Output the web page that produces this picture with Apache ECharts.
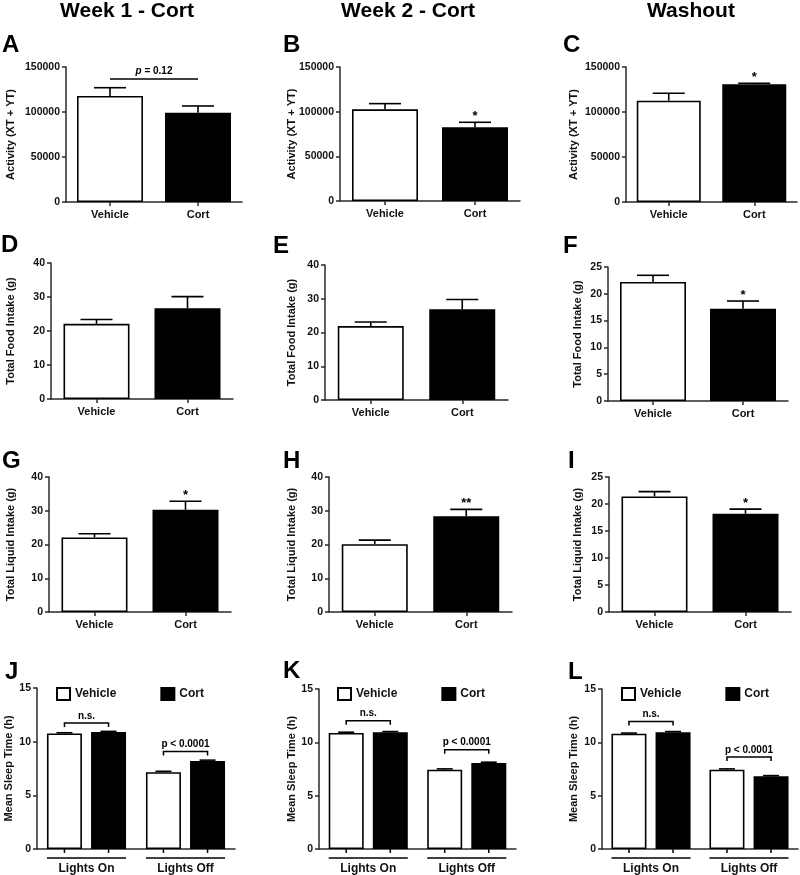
<!DOCTYPE html>
<html><head><meta charset="utf-8">
<script src="https://cdn.jsdelivr.net/npm/echarts@6/dist/echarts.min.js"></script>
<style>html,body{margin:0;padding:0;background:#fff}#c{width:800px;height:875px}</style>
</head><body><div id="c"></div>
<script>
const FONT = '"Liberation Sans", Arial, Helvetica, sans-serif';

// ---------- text ----------
const columnTitles = ['Week 1 - Cort', 'Week 2 - Cort', 'Washout'];
const panelLetters = ['A','B','C','D','E','F','G','H','I','J','K','L'];
const groups = ['Vehicle', 'Cort'];
const sleepPhases = ['Lights On', 'Lights Off'];
const yNames = ['Activity (XT + YT)', 'Total Food Intake (g)', 'Total Liquid Intake (g)', 'Mean Sleep Time (h)'];

// ---------- tick labels ----------
const activityTicks = [0, 50000, 100000, 150000];
const ticks40 = [0, 10, 20, 30, 40];
const ticks25 = [0, 5, 10, 15, 20, 25];
const sleepTicks = [0, 5, 10, 15];

// ---------- data (mean, SEM) : [Vehicle, Cort] ----------
const activityW1Mean = [117800, 99200];  const activityW1Sem = [9200, 7500];
const activityW2Mean = [102600, 82500];  const activityW2Sem = [6400, 5600];
const activityWoMean = [112600, 130800]; const activityWoSem = [8200, 1100];

const foodW1Mean = [22.1, 26.7];  const foodW1Sem = [1.3, 3.4];
const foodW2Mean = [21.9, 26.9];  const foodW2Sem = [1.2, 2.9];
const foodWoMean = [22.2, 17.2];  const foodWoSem = [1.25, 1.45];

const liquidW1Mean = [22.1, 30.3]; const liquidW1Sem = [1.1, 2.5];
const liquidW2Mean = [20.1, 28.4]; const liquidW2Sem = [1.2, 2.0];
const liquidWoMean = [21.4, 18.2]; const liquidWoSem = [0.9, 0.85];

// sleep: [Lights On, Lights Off]
const sleepW1Vehicle = [10.76, 7.16]; const sleepW1VehicleSem = [0.07, 0.08];
const sleepW1Cort    = [10.89, 8.21]; const sleepW1CortSem    = [0.07, 0.07];
const sleepW2Vehicle = [10.88, 7.43]; const sleepW2VehicleSem = [0.07, 0.08];
const sleepW2Cort    = [10.94, 8.06]; const sleepW2CortSem    = [0.07, 0.08];
const sleepWoVehicle = [10.81, 7.43]; const sleepWoVehicleSem = [0.06, 0.08];
const sleepWoCort    = [10.95, 6.81]; const sleepWoCortSem    = [0.06, 0.07];

// ---------- significance annotations ----------
const activityStars = [['', ''], ['', '*'], ['', '*']];
const foodStars     = [['', ''], ['', ''], ['', '*']];
const liquidStars   = [['', '*'], ['', '**'], ['', '*']];
const activityW1Note = 'p = 0.12';
const activityW1NoteLevel = 136700;
const sleepNotes = ['n.s.', 'p < 0.0001'];
const sleepW1NoteLevels = [11.73, 9.08];
const sleepW2NoteLevels = [12.03, 9.31];
const sleepWoNoteLevels = [11.96, 8.63];

// ---------- layout (pixels) ----------
const gridBoxes = [
  [66, 67, 176, 135], [340, 67, 180, 134], [626, 67, 171, 135],
  [51, 263, 182, 136], [325, 265, 183, 135], [608, 267, 180, 134],
  [49, 477, 182, 135], [329, 477, 183, 135], [609, 477, 182, 135],
  [37, 688, 198, 161], [319, 689, 197, 160], [602, 689, 196, 160]
];
const nameGaps = [50, 43, 47, 35, 28, 25, 33, 32, 26, 23, 22, 23];
const letterPos = [[2,45],[283,45],[563,45],[1,245],[273,246],[563,246],[2,461],[283,461],[568,461],[5,672],[283,671],[568,672]];
const titleX = [127, 408, 691];
const legendLeft = [56, 337, 621];
const BAR_W = 66, CAP_HALF = 16;
const SBAR_W = 35, SGAP = 0.26, SCAP_HALF = 8;
const SOFF = (SBAR_W + SBAR_W * SGAP) / 2;
const SGROUP_HALF = SBAR_W + SBAR_W * SGAP / 2;
const AX = '#2a2a2a';

const barPanels = [
  [activityW1Mean, activityW1Sem, activityTicks, 0, activityStars[0]],
  [activityW2Mean, activityW2Sem, activityTicks, 0, activityStars[1]],
  [activityWoMean, activityWoSem, activityTicks, 0, activityStars[2]],
  [foodW1Mean, foodW1Sem, ticks40, 1, foodStars[0]],
  [foodW2Mean, foodW2Sem, ticks40, 1, foodStars[1]],
  [foodWoMean, foodWoSem, ticks25, 1, foodStars[2]],
  [liquidW1Mean, liquidW1Sem, ticks40, 2, liquidStars[0]],
  [liquidW2Mean, liquidW2Sem, ticks40, 2, liquidStars[1]],
  [liquidWoMean, liquidWoSem, ticks25, 2, liquidStars[2]]
];
const sleepPanels = [
  [sleepW1Vehicle, sleepW1VehicleSem, sleepW1Cort, sleepW1CortSem, sleepW1NoteLevels],
  [sleepW2Vehicle, sleepW2VehicleSem, sleepW2Cort, sleepW2CortSem, sleepW2NoteLevels],
  [sleepWoVehicle, sleepWoVehicleSem, sleepWoCort, sleepWoCortSem, sleepWoNoteLevels]
];

function txt(x, y, text, font, align, valign, extra) {
  return { type: 'text', x: x, y: y, style: Object.assign({
    text: text, font: font, fill: '#000',
    align: align, verticalAlign: valign, textAlign: align, textVerticalAlign: valign
  }, extra || {}) };
}
function ln(x1, y1, x2, y2, w) {
  return { type: 'line', shape: { x1: x1, y1: y1, x2: x2, y2: y2 }, style: { stroke: '#000', lineWidth: w || 1.6 } };
}

const grids = [], xAxes = [], yAxes = [], series = [];

function addAxes(i, ticks, cats, nameIdx, sleep) {
  const b = gridBoxes[i];
  grids.push({ left: b[0], top: b[1], width: b[2], height: b[3], outerBoundsMode: 'none', containLabel: false });
  xAxes.push({
    type: 'category', gridIndex: i, data: cats,
    axisLine: { lineStyle: { color: AX, width: 1.5 } },
    axisTick: { show: !sleep, alignWithLabel: true, length: 4, lineStyle: { color: AX, width: 1.5 } },
    axisLabel: { fontFamily: FONT, fontWeight: 'bold', fontSize: sleep ? 12 : 11, color: '#111', margin: sleep ? 14 : 7 }
  });
  yAxes.push({
    type: 'value', gridIndex: i, min: ticks[0], max: ticks[ticks.length - 1], interval: ticks[1] - ticks[0],
    name: yNames[nameIdx], nameLocation: 'middle', nameGap: nameGaps[i], nameMoveOverlap: false,
    nameTextStyle: { fontFamily: FONT, fontWeight: 'bold', fontSize: 11, color: '#111' },
    axisLine: { show: true, lineStyle: { color: AX, width: 1.5 } },
    axisTick: { show: true, length: 4, lineStyle: { color: AX, width: 1.5 } },
    splitLine: { show: false },
    axisLabel: { fontFamily: FONT, fontWeight: 'bold', fontSize: 10.5, color: '#111', margin: 6,
      formatter: function (v) { return String(v); } }
  });
}

// ---------- rows 1-3 ----------
barPanels.forEach(function (p, i) {
  const mean = p[0], sem = p[1], stars = p[4];
  addAxes(i, p[2], groups, p[3], false);
  series.push({
    type: 'bar', xAxisIndex: i, yAxisIndex: i, barWidth: i === 2 ? 64 : BAR_W, silent: true,
    data: mean.map(function (v, j) {
      return { value: v, itemStyle: { color: j ? '#000' : '#fff', borderColor: '#000', borderWidth: 1.6 } };
    })
  });
  series.push({
    type: 'custom', xAxisIndex: i, yAxisIndex: i, z: 5, silent: true, clip: false,
    data: mean.map(function (v, j) { return [j, v, sem[j]]; }),
    renderItem: function (params, api) {
      const x = api.value(0), m = api.value(1), s = api.value(2);
      const b0 = api.coord([x, m]), t = api.coord([x, m + s]);
      const cx = b0[0];
      const ch = [ln(cx, b0[1], cx, t[1]), ln(cx - CAP_HALF, t[1], cx + CAP_HALF, t[1])];
      const st = stars[params.dataIndex];
      if (st) ch.push(txt(cx, t[1] - 6, st, 'bold 13px ' + FONT, 'center', 'middle'));
      return { type: 'group', children: ch };
    }
  });
});

// p = 0.12 bracket in panel A
series.push({
  type: 'custom', xAxisIndex: 0, yAxisIndex: 0, z: 5, silent: true, clip: false,
  data: [[0, activityW1NoteLevel, 1]],
  renderItem: function (params, api) {
    const a = api.coord([api.value(0), api.value(1)]);
    const b = api.coord([api.value(2), api.value(1)]);
    return { type: 'group', children: [
      ln(a[0], a[1], b[0], b[1], 1.5),
      txt((a[0] + b[0]) / 2, a[1] - 8, '{i|p}' + activityW1Note.slice(1), 'bold 10px ' + FONT, 'center', 'middle',
        { rich: { i: { fontStyle: 'italic', fontWeight: 'bold', fontSize: 10, fontFamily: FONT } } })
    ] };
  }
});

// ---------- row 4 ----------
sleepPanels.forEach(function (p, k) {
  const i = 9 + k;
  addAxes(i, sleepTicks, sleepPhases, 3, true);
  series.push({
    name: 'Vehicle', type: 'bar', xAxisIndex: i, yAxisIndex: i, barWidth: SBAR_W, barGap: (SGAP * 100) + '%', silent: true,
    itemStyle: { color: '#fff', borderColor: '#000', borderWidth: 1.6 }, data: p[0]
  });
  series.push({
    name: 'Cort', type: 'bar', xAxisIndex: i, yAxisIndex: i, barWidth: SBAR_W, barGap: (SGAP * 100) + '%', silent: true,
    itemStyle: { color: '#000', borderColor: '#000', borderWidth: 1.6 }, data: p[2]
  });
  const errData = [];
  p[0].forEach(function (v, j) { errData.push([j, v, p[1][j], -1]); });
  p[2].forEach(function (v, j) { errData.push([j, v, p[3][j], 1]); });
  series.push({
    type: 'custom', xAxisIndex: i, yAxisIndex: i, z: 5, silent: true, clip: false, data: errData,
    renderItem: function (params, api) {
      const x = api.value(0), m = api.value(1), s = api.value(2), side = api.value(3);
      const b0 = api.coord([x, m]), t = api.coord([x, m + s]);
      const cx = b0[0] + side * SOFF;
      return { type: 'group', children: [ln(cx, b0[1], cx, t[1]), ln(cx - SCAP_HALF, t[1], cx + SCAP_HALF, t[1])] };
    }
  });
  const levels = p[4];
  series.push({
    type: 'custom', xAxisIndex: i, yAxisIndex: i, z: 5, silent: true, clip: false,
    data: sleepPhases.map(function (c, j) { return [j, levels[j]]; }),
    renderItem: function (params, api) {
      const j = api.value(0);
      const c = api.coord([j, api.value(1)]);
      const base = api.coord([j, 0]);
      const l = c[0] - SOFF, r = c[0] + SOFF, y = c[1];
      return { type: 'group', children: [
        { type: 'polyline', shape: { points: [[l, y + 4], [l, y], [r, y], [r, y + 4]] }, style: { stroke: '#000', lineWidth: 1.5, fill: null } },
        txt(c[0], y - 2, sleepNotes[params.dataIndex], 'bold 10px ' + FONT, 'center', 'bottom'),
        ln(l, base[1], l, base[1] + 4, 1.5),
        ln(r, base[1], r, base[1] + 4, 1.5),
        ln(c[0] - SGROUP_HALF, base[1] + 9, c[0] + SGROUP_HALF, base[1] + 9, 1.5)
      ] };
    }
  });
});

const legends = legendLeft.map(function (x) {
  return {
    data: groups, left: x, top: 687, orient: 'horizontal', icon: 'rect',
    itemWidth: 13, itemHeight: 12, itemGap: 44, selectedMode: false, padding: 0,
    textStyle: { fontFamily: FONT, fontWeight: 'bold', fontSize: 12, color: '#111' }
  };
});

const graphics = [];
columnTitles.forEach(function (t, k) {
  graphics.push(txt(titleX[k], 11, t, 'bold 21px ' + FONT, 'center', 'middle'));
});
panelLetters.forEach(function (L, i) {
  graphics.push(txt(letterPos[i][0], letterPos[i][1], L, 'bold 24px ' + FONT, 'left', 'middle'));
});

const chart = echarts.init(document.getElementById('c'), null, { renderer: 'canvas' });
chart.setOption({
  animation: false,
  backgroundColor: '#fff',
  grid: grids, xAxis: xAxes, yAxis: yAxes, series: series,
  legend: legends,
  graphic: graphics
});
</script></body></html>
